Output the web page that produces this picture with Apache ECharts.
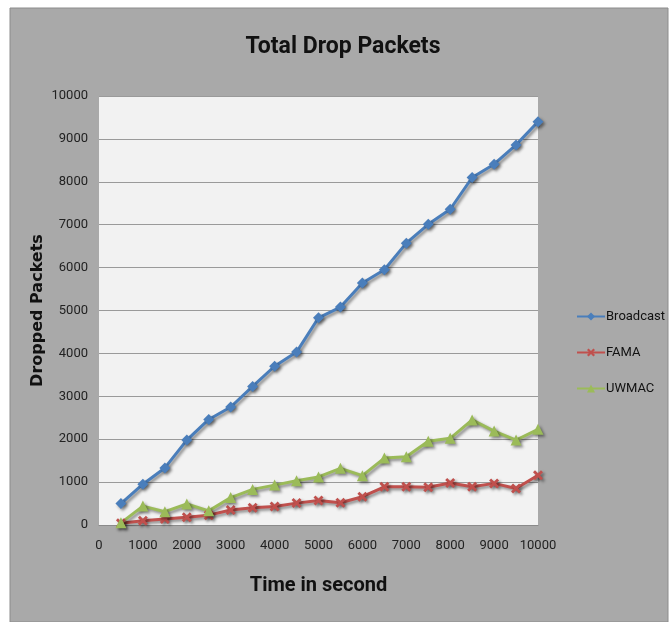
<!DOCTYPE html>
<html>
<head>
<meta charset="utf-8">
<script src="https://cdn.jsdelivr.net/npm/echarts@6/dist/echarts.min.js"></script>
<style>
html,body{margin:0;padding:0;background:#fff;}
#c{width:672px;height:622px;}
</style>
</head>
<body>
<div id="c"></div>
<script>
const timeValues = [500,1000,1500,2000,2500,3000,3500,4000,4500,5000,5500,6000,6500,7000,7500,8000,8500,9000,9500,10000];
const broadcast = [500,950,1330,1980,2460,2750,3230,3700,4030,4830,5080,5640,5950,6570,7010,7360,8100,8410,8860,9400];
const fama = [40,100,140,180,230,350,400,430,510,570,520,660,890,890,880,980,890,970,850,1160];
const uwmac = [50,440,310,490,330,640,830,930,1030,1120,1320,1150,1560,1590,1950,2020,2450,2190,1980,2230];
const xTicks = [0,1000,2000,3000,4000,5000,6000,7000,8000,9000,10000];

const pair = (vals) => vals.map((v,i)=>[timeValues[i], v]);
const chart = echarts.init(document.getElementById('c'));
const narrow = 'Roboto,"Open Sans",sans-serif';
const shadow = {shadowColor:'rgba(0,0,0,0.45)', shadowBlur:3, shadowOffsetX:2, shadowOffsetY:2};
const xPath = 'path://M0,2L2,0L5,3L8,0L10,2L7,5L10,8L8,10L5,7L2,10L0,8L3,5Z';

chart.setOption({
  animation:false,
  backgroundColor:'#ffffff',
  graphic:[{type:'rect', z:-10, shape:{x:10,y:8,width:658,height:614}, style:{fill:'#a9a9a9', stroke:'#8c8c8c', lineWidth:1}}],
  title:{text:'Total Drop Packets', left:338, top:31, textAlign:'center',
    textStyle:{fontFamily:narrow, fontSize:23, fontWeight:'bold', color:'#111'}},
  grid:{left:99, right:134, top:96, bottom:97, show:true, backgroundColor:'#f2f2f2', borderWidth:0},
  legend:{orient:'vertical', left:571, top:305, itemGap:23, itemWidth:28, itemHeight:10,
    textStyle:{fontFamily:narrow, fontSize:13, color:'#111', padding:[0,0,0,-4]},
    data:['Broadcast','FAMA','UWMAC']},
  xAxis:{type:'value', min:0, max:10000, interval:1000,
    name:'Time in second', nameLocation:'middle', nameGap:51, nameMoveOverlap:false,
    nameTextStyle:{fontFamily:narrow, fontSize:20, fontWeight:'bold', color:'#111'},
    axisLine:{show:true, lineStyle:{color:'#8a8a8a', width:1}},
    axisTick:{show:false}, splitLine:{show:false},
    axisLabel:{fontFamily:narrow, fontSize:13, color:'#222', margin:14,
      formatter:(v)=> xTicks.includes(v) ? String(v) : ''}},
  yAxis:{type:'value', min:0, max:10000, interval:1000,
    name:'Dropped Packets', nameLocation:'middle', nameGap:53, nameRotate:90, nameMoveOverlap:false,
    nameTextStyle:{fontFamily:'"DejaVu Sans",Verdana,sans-serif', fontSize:16, fontWeight:'bold', color:'#111'},
    axisLine:{show:false}, axisTick:{show:false},
    splitLine:{show:true, lineStyle:{color:'#9a9a9a', width:1}},
    axisLabel:{fontFamily:narrow, fontSize:13, color:'#222', margin:11,
      formatter:(v)=> String(v)}},
  series:[
    {name:'Broadcast', type:'line', data:pair(broadcast), symbol:'diamond', symbolSize:11,
      lineStyle:Object.assign({color:'#4a7ebb', width:3}, shadow),
      itemStyle:Object.assign({color:'#4a7ebb'}, shadow)},
    {name:'FAMA', type:'line', data:pair(fama), symbol:xPath, symbolSize:10,
      lineStyle:Object.assign({color:'#c0504d', width:3}, shadow),
      itemStyle:Object.assign({color:'#c0504d'}, shadow)},
    {name:'UWMAC', type:'line', data:pair(uwmac), symbol:'triangle', symbolSize:11,
      lineStyle:Object.assign({color:'#9bbb59', width:3}, shadow),
      itemStyle:Object.assign({color:'#9bbb59'}, shadow)}
  ]
});
</script>
</body>
</html>
